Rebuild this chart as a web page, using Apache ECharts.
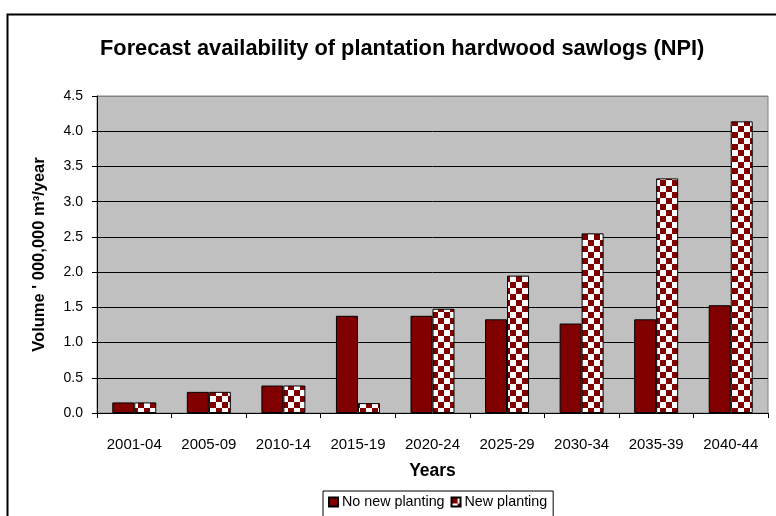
<!DOCTYPE html>
<html>
<head>
<meta charset="utf-8">
<script src="https://cdn.jsdelivr.net/npm/echarts@6/dist/echarts.min.js"></script>
<style>
  html, body { margin: 0; padding: 0; background: #fff; }
  #main { width: 776px; height: 516px; }
</style>
</head>
<body>
<div id="main"></div>
<script>
// data
var years = ['2001-04', '2005-09', '2010-14', '2015-19', '2020-24', '2025-29', '2030-34', '2035-39', '2040-44']
var noNewPlanting = [0.15, 0.30, 0.39, 1.38, 1.38, 1.33, 1.27, 1.33, 1.53]
var newPlanting = [0.15, 0.30, 0.39, 0.14, 1.48, 1.95, 2.55, 3.33, 4.14]
var yTicks = { min: 0, max: 4.5, step: 0.5 }

var maroon = '#800000'

// checkered fill used by Excel for the second series
function checker(size) {
  var c = document.createElement('canvas')
  c.width = size * 2
  c.height = size * 2
  var ctx = c.getContext('2d')
  ctx.fillStyle = '#ffffff'
  ctx.fillRect(0, 0, size * 2, size * 2)
  ctx.fillStyle = maroon
  ctx.fillRect(0, 0, size, size)
  ctx.fillRect(size, size, size, size)
  return c
}

var font = '"Liberation Sans", Arial, sans-serif'
var gridColors = []
for (var v = yTicks.min; v <= yTicks.max + 1e-9; v += yTicks.step) {
  gridColors.push(v >= yTicks.max - 1e-9 ? '#808080' : '#000000')
}

var chart = echarts.init(document.getElementById('main'))
chart.setOption({
  animation: false,
  textStyle: { fontFamily: font },
  graphic: [{
    type: 'rect',
    shape: { x: 7.5, y: 14.5, width: 800, height: 600 },
    style: { fill: 'none', stroke: '#000', lineWidth: 2 },
    silent: true
  }],
  title: {
    text: 'Forecast availability of plantation hardwood sawlogs (NPI)',
    left: 95,
    top: 33,
    textStyle: { fontSize: 21.8, fontWeight: 'bold', color: '#000', fontFamily: font }
  },
  grid: {
    left: 97,
    right: 8,
    top: 96,
    bottom: 103,
    show: true,
    backgroundColor: '#C0C0C0',
    borderColor: '#808080',
    borderWidth: 1
  },
  legend: {
    left: 323,
    top: 491,
    itemWidth: 9,
    itemHeight: 9,
    itemGap: 6,
    padding: [4, 6, 10, 5],
    borderColor: '#000',
    borderWidth: 1,
    icon: 'rect',
    textStyle: { fontSize: 14.3, color: '#000', fontFamily: font, padding: [0, 0, 0, -1] },
    data: ['No new planting', 'New planting']
  },
  xAxis: {
    type: 'category',
    data: years,
    name: 'Years',
    nameLocation: 'middle',
    nameGap: 49,
    nameTextStyle: { fontSize: 17.5, fontWeight: 'bold', color: '#000' },
    axisLine: { lineStyle: { color: '#000', width: 1 } },
    axisTick: { show: true, length: 5, inside: false, lineStyle: { color: '#000' } },
    axisLabel: { fontSize: 15, color: '#000', margin: 24 }
  },
  yAxis: {
    type: 'value',
    min: yTicks.min,
    max: yTicks.max,
    interval: yTicks.step,
    name: 'Volume \' 000,000 m³/year',
    nameLocation: 'middle',
    nameGap: 49,
    nameTextStyle: { fontSize: 16.5, fontWeight: 'bold', color: '#000' },
    axisLine: { show: true, lineStyle: { color: '#000', width: 1 } },
    axisTick: { show: true, length: 5, lineStyle: { color: '#000' } },
    axisLabel: {
      fontSize: 14,
      color: '#000',
      margin: 14,
      formatter: function (val) { return val.toFixed(1) }
    },
    splitLine: { show: true, lineStyle: { color: gridColors, width: 1 } }
  },
  series: [
    {
      name: 'No new planting',
      type: 'bar',
      data: noNewPlanting,
      barGap: '0%',
      barCategoryGap: '41%',
      itemStyle: { color: maroon, borderColor: '#000', borderWidth: 1 }
    },
    {
      name: 'New planting',
      type: 'bar',
      data: newPlanting,
      itemStyle: {
        color: { image: checker(6), repeat: 'repeat' },
        borderColor: '#000',
        borderWidth: 1
      }
    }
  ]
})
</script>
</body>
</html>
